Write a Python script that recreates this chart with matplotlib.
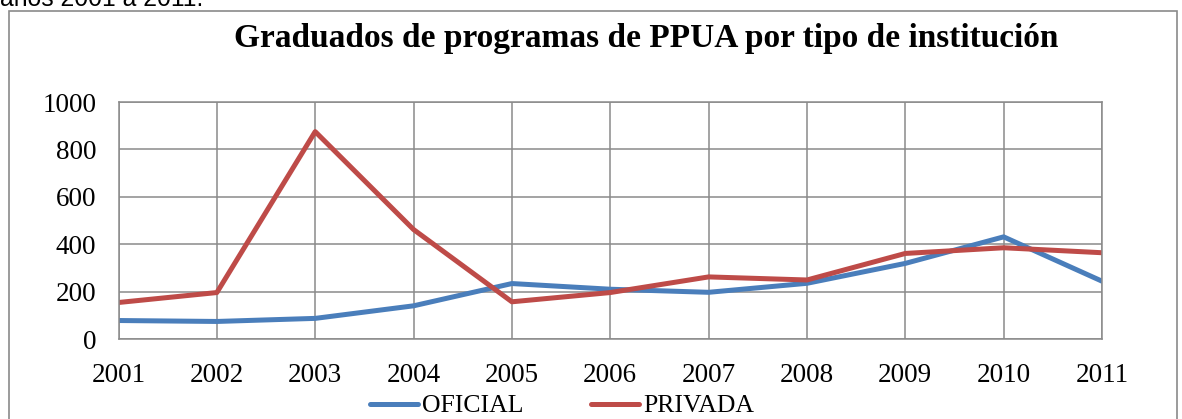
import matplotlib
matplotlib.use('Agg')
import matplotlib.pyplot as plt
from matplotlib.patches import Rectangle

years = ['2001', '2002', '2003', '2004', '2005', '2006', '2007', '2008', '2009', '2010', '2011']
oficial = [78, 74, 87, 140, 234, 210, 197, 235, 319, 431, 244]
privada = [154, 196, 875, 462, 157, 196, 262, 249, 361, 385, 364]
y_ticks = [0, 200, 400, 600, 800, 1000]

W, H = 1182, 419
fig = plt.figure(figsize=(W / 100, H / 100), dpi=100)

# borde del grafico (cortado abajo)
fig.patches.append(Rectangle((9 / W, -0.1), (1177 - 9) / W, 1.1 - 11 / H,
                             transform=fig.transFigure, fill=False,
                             edgecolor='#8a8a8a', linewidth=1.2))

# texto cortado arriba
fig.text(0, 1 - 6 / H, 'años 2001 a 2011.', fontsize=17.8,
         family='Liberation Sans', va='baseline', ha='left')

left, right, top, bottom = 118.5, 1102, 102, 339
ax = fig.add_axes([left / W, 1 - bottom / H, (right - left) / W, (bottom - top) / H])

x = list(range(len(years)))
ax.plot(x, oficial, color='#4A7EBB', linewidth=3.6, label='OFICIAL', solid_capstyle='round')
ax.plot(x, privada, color='#BE4B48', linewidth=3.6, label='PRIVADA', solid_capstyle='round')

ax.set_xlim(0, len(years) - 1)
ax.set_ylim(0, 1000)
ax.set_xticks(x)
ax.set_xticklabels(years)
ax.set_yticks(y_ticks)
ax.grid(True, color='#8a8a8a', linewidth=1.1)
ax.set_axisbelow(True)
for s in ax.spines.values():
    s.set_color('#8a8a8a')
    s.set_linewidth(1.1)
ax.tick_params(length=0, labelsize=19.5)
ax.tick_params(axis='x', pad=17)
ax.tick_params(axis='y', pad=16)
for lbl in ax.get_xticklabels() + ax.get_yticklabels():
    lbl.set_family('Liberation Serif')

fig.text(646 / W, 1 - 38 / H, 'Graduados de programas de PPUA por tipo de institución',
         fontsize=24, fontweight='bold', family='Liberation Serif', ha='center', va='center')

fig.legend(loc='center', bbox_to_anchor=(562 / W, 1 - 406 / H), ncol=2, frameon=False,
           prop={'family': 'Liberation Serif', 'size': 18.5}, handlelength=1.9,
           handletextpad=0.15, columnspacing=2.6, borderaxespad=0)

fig.savefig('out.png', dpi=100)
